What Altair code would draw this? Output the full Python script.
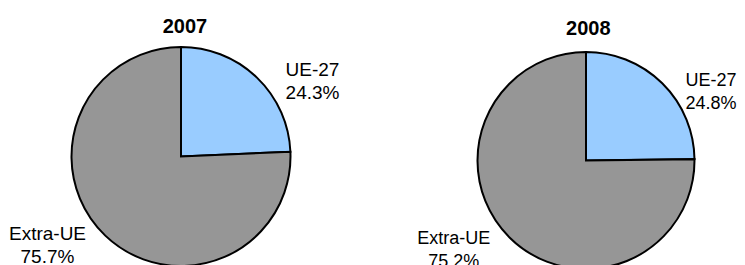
import altair as alt
import pandas as pd

years = ["2007", "2008"]
categories = ["UE-27", "Extra-UE"]
share_2007 = [24.3, 75.7]
share_2008 = [24.8, 75.2]
colors = ["#99CCFF", "#969696"]

FONT = "Liberation Sans"


def panel(year, values, w, h, r, fs, offsets, title_r, title_dx):
    df = pd.DataFrame({
        "category": categories,
        "value": values,
        "order": list(range(len(categories))),
        "label": [f"{c}\n{v:.1f}%" for c, v in zip(categories, values)],
    })
    base = alt.Chart(df).encode(
        theta=alt.Theta("value:Q", stack=True),
        order=alt.Order("order:Q"),
    )
    arcs = base.mark_arc(outerRadius=r, stroke="black", strokeWidth=2).encode(
        color=alt.Color("category:N",
                        scale=alt.Scale(domain=categories, range=colors),
                        legend=None)
    )
    layers = [arcs]
    for cat, (dx, dy) in zip(categories, offsets):
        layers.append(
            base.mark_text(radius=150, dx=dx, dy=dy, fontSize=fs, font=FONT,
                           lineBreak="\n", lineHeight=23, align="center",
                           baseline="middle", color="black").encode(
                text=alt.condition(f"datum.category == '{cat}'",
                                   alt.Text("label:N"), alt.value(""))
            )
        )
    title = alt.Chart(pd.DataFrame({"year": [year]})).mark_text(
        radius=title_r, theta=0, dx=title_dx, fontSize=20, fontWeight="bold",
        font=FONT, color="black", align="center", baseline="alphabetic"
    ).encode(text=alt.Text("year:N"))
    layers.append(title)
    return alt.layer(*layers).properties(width=w, height=h)


p1 = panel(years[0], share_2007, 346, 219, 109.5, 19,
           [(27.8, 21.9), (-29.8, -30.9)], 123.8, 4)
p2 = panel(years[1], share_2008, 302, 227, 108.5, 18,
           [(19.6, 27.1), (-26.9, -28.0)], 125.2, 2.3)

chart = alt.hconcat(p1, p2, spacing=81, bounds="flush").properties(
    padding={"top": 0, "left": 0, "right": 0, "bottom": 0}
).configure_view(stroke=None)

chart.save("out.html", embed_options={"renderer": "svg", "actions": False})
